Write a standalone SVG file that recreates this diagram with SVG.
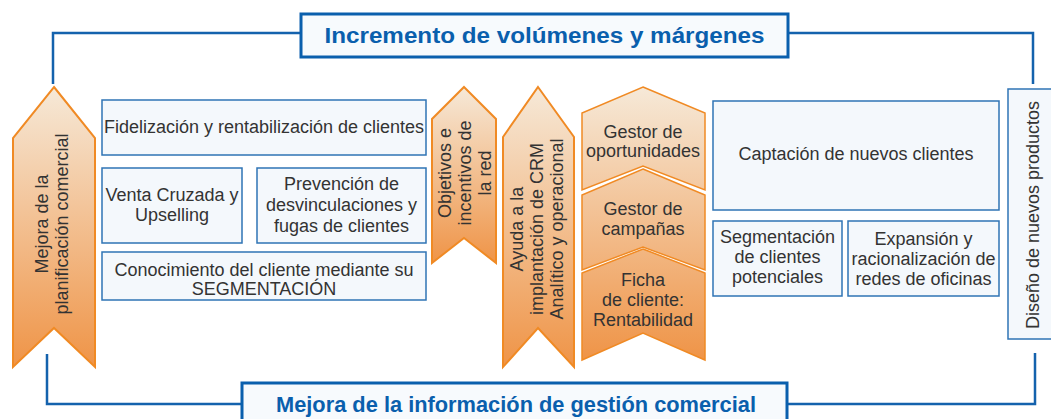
<svg xmlns="http://www.w3.org/2000/svg" width="1051" height="419" viewBox="0 0 1051 419">
<defs>
<linearGradient id="og" x1="0" y1="0" x2="0" y2="1">
<stop offset="0" stop-color="#f6e9d8"/>
<stop offset="1" stop-color="#ef9447"/>
</linearGradient>
<linearGradient id="cg" gradientUnits="userSpaceOnUse" x1="0" y1="87" x2="0" y2="360">
<stop offset="0" stop-color="#f6e9d8"/>
<stop offset="1" stop-color="#ef9447"/>
</linearGradient>
<style>
.box{fill:#f4f8fc;stroke:#2f74b5;stroke-width:1.5}
.title{fill:#f7fafd;stroke:#0a5fad;stroke-width:3}
.chev{fill:url(#og);stroke:#f08a24;stroke-width:2;stroke-linejoin:miter}
.col{fill:url(#cg);stroke:#f08a24;stroke-width:1.5}
.t{font-family:"Liberation Sans",Arial,sans-serif;font-size:18px;fill:#333;text-anchor:middle;dominant-baseline:central}
.h{font-family:"Liberation Sans",Arial,sans-serif;font-size:22px;font-weight:bold;fill:#0a5fad;text-anchor:middle;dominant-baseline:central}
.ln{fill:none;stroke:#1462ad;stroke-width:2.5}
</style>
</defs>
<g id="connectors">
<path class="ln" d="M53,84 V33 H301"/>
<path class="ln" d="M788,33 H1033 V84"/>
<path class="ln" d="M47,354 V404 H242"/>
<path class="ln" d="M787,404 H1035 V353"/>
</g>
<g id="top-title">
<rect class="title" x="301" y="14" width="487" height="43"/>
<text class="h" x="544.5" y="35" textLength="440" lengthAdjust="spacingAndGlyphs">Incremento de volúmenes y márgenes</text>
</g>
<g id="bottom-title">
<rect class="title" x="242" y="383" width="545" height="40"/>
<text class="h" x="516" y="404" textLength="480" lengthAdjust="spacingAndGlyphs">Mejora de la información de gestión comercial</text>
</g>
<g id="planificacion">
<polygon class="chev" points="54,87 95,138 95,367 54,328 13,367 13,138"/>
<text class="t" transform="translate(52,224) rotate(-90)"><tspan x="0" y="-10">Mejora de la</tspan><tspan x="0" y="10">planificación comercial</tspan></text>
</g>
<g id="fidelizacion">
<rect class="box" x="102" y="100" width="324" height="55"/>
<text class="t" x="264" y="127">Fidelización y rentabilización de clientes</text>
</g>
<g id="venta">
<rect class="box" x="102" y="168" width="140" height="75"/>
<text class="t" x="172" y="195">Venta Cruzada y</text>
<text class="t" x="172" y="215">Upselling</text>
</g>
<g id="prevencion">
<rect class="box" x="257" y="168" width="169" height="75"/>
<text class="t" x="341.5" y="184">Prevención de</text>
<text class="t" x="341.5" y="205">desvinculaciones y</text>
<text class="t" x="341.5" y="226">fugas de clientes</text>
</g>
<g id="conocimiento">
<rect class="box" x="102" y="252" width="324" height="48"/>
<text class="t" x="264" y="270">Conocimiento del cliente mediante su</text>
<text class="t" x="264" y="289">SEGMENTACIÓN</text>
</g>
<g id="objetivos">
<polygon class="chev" points="464,87 496,119 496,263 464,238 432,263 432,119"/>
<text class="t" transform="translate(465,173) rotate(-90)"><tspan x="0" y="-20">Objetivos e</tspan><tspan x="0" y="0">incentivos de</tspan><tspan x="0" y="20">la red</tspan></text>
</g>
<g id="crm">
<polygon class="chev" points="538,87 574,137 574,367 538,328 503,367 503,137"/>
<text class="t" transform="translate(537,229) rotate(-90)"><tspan x="0" y="-20">Ayuda a la</tspan><tspan x="0" y="0">implantación de CRM</tspan><tspan x="0" y="20">Analítico y operacional</tspan></text>
</g>
<g id="oportunidades">
<polygon class="col" points="643,87 705,113 705,190 643,166 582,190 582,113"/>
<text class="t" x="643" y="132">Gestor de</text>
<text class="t" x="643" y="151">oportunidades</text>
</g>
<g id="campanas">
<polygon class="col" points="643,169 705,195 705,270 643,247 582,270 582,195"/>
<text class="t" x="643" y="209">Gestor de</text>
<text class="t" x="643" y="229">campañas</text>
</g>
<g id="ficha">
<polygon class="col" points="643,249 705,273 705,360 643,333 582,360 582,273"/>
<text class="t" x="643" y="280">Ficha</text>
<text class="t" x="643" y="300">de cliente:</text>
<text class="t" x="643" y="320">Rentabilidad</text>
</g>
<g id="captacion">
<rect class="box" x="713" y="101" width="286" height="109"/>
<text class="t" x="856" y="154">Captación de nuevos clientes</text>
</g>
<g id="segmentacion">
<rect class="box" x="713" y="221" width="129" height="75"/>
<text class="t" x="777.5" y="237">Segmentación</text>
<text class="t" x="777.5" y="257">de clientes</text>
<text class="t" x="777.5" y="277">potenciales</text>
</g>
<g id="expansion">
<rect class="box" x="848" y="221" width="151" height="75"/>
<text class="t" x="923.5" y="239">Expansión y</text>
<text class="t" x="923.5" y="259">racionalización de</text>
<text class="t" x="923.5" y="279">redes de oficinas</text>
</g>
<g id="diseno">
<rect class="box" x="1008" y="89" width="45" height="250"/>
<text class="t" transform="translate(1033,215) rotate(-90)" x="0" y="0">Diseño de nuevos productos</text>
</g>
</svg>
